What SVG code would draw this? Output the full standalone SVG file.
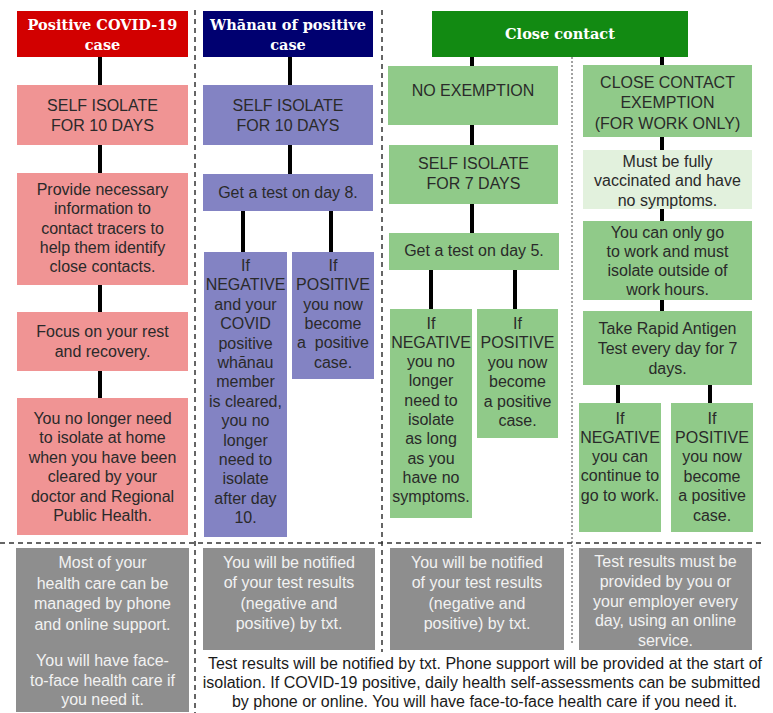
<svg xmlns="http://www.w3.org/2000/svg" width="773" height="713" viewBox="0 0 773 713">
<style>
.hd{font-family:"DejaVu Serif","Liberation Serif",serif;font-weight:bold;font-size:14.5px;fill:#fff;text-anchor:middle}
.t{font-family:"Liberation Sans",Arial,sans-serif;font-size:16px;fill:#2a2a2a;text-anchor:middle}
.g{font-family:"Liberation Sans",Arial,sans-serif;font-size:16px;fill:#f2f2f2;text-anchor:middle}
.b{font-family:"Liberation Sans",Arial,sans-serif;font-size:16px;fill:#1a1a1a;text-anchor:middle}
.red{fill:#f09494}.pur{fill:#8383c3}.grn{fill:#90ca89}.lgr{fill:#e2f1dd}.gry{fill:#8e8e8e}
.c{stroke:#000;stroke-width:4;fill:none}
.dv{stroke:#333;stroke-width:1.5;stroke-dasharray:5 4;fill:none}
.dt{stroke:#444;stroke-width:1;stroke-dasharray:2 2;fill:none}
</style>
<rect width="773" height="713" fill="#fff"/>
<g id="dividers">
<line class="dv" x1="195" y1="10" x2="195" y2="713"/>
<line class="dv" x1="382" y1="10" x2="382" y2="652"/>
<line class="dv" x1="0" y1="543" x2="765" y2="543"/>
<line class="dt" x1="572" y1="57" x2="572" y2="645"/>
</g>
<g id="connectors">
<line class="c" x1="100" y1="57" x2="100" y2="85"/>
<line class="c" x1="100" y1="145" x2="100" y2="173"/>
<line class="c" x1="100" y1="285" x2="100" y2="312"/>
<line class="c" x1="100" y1="371" x2="100" y2="398"/>
<line class="c" x1="290" y1="57" x2="290" y2="85"/>
<line class="c" x1="290" y1="145" x2="290" y2="174"/>
<line class="c" x1="243" y1="211" x2="243" y2="252"/>
<line class="c" x1="331" y1="211" x2="331" y2="252"/>
<line class="c" x1="472" y1="57" x2="472" y2="66"/>
<line class="c" x1="472" y1="125" x2="472" y2="145"/>
<line class="c" x1="472" y1="204" x2="472" y2="233"/>
<line class="c" x1="431" y1="270" x2="431" y2="309"/>
<line class="c" x1="515" y1="270" x2="515" y2="309"/>
<line class="c" x1="662" y1="57" x2="662" y2="65"/>
<line class="c" x1="662" y1="137" x2="662" y2="150"/>
<line class="c" x1="662" y1="209" x2="662" y2="221"/>
<line class="c" x1="662" y1="300" x2="662" y2="311"/>
<line class="c" x1="618" y1="385" x2="618" y2="403"/>
<line class="c" x1="710" y1="385" x2="710" y2="403"/>
</g>
<g id="h1"><rect x="17" y="11" width="171" height="46" fill="#d20000"/>
<text class="hd"><tspan x="102.5" y="30">Positive COVID-19</tspan><tspan x="102.5" y="49.5">case</tspan></text></g>
<g id="h2"><rect x="203" y="11" width="170" height="46" fill="#000070"/>
<text class="hd"><tspan x="288" y="30">Whānau of positive</tspan><tspan x="288" y="49.5">case</tspan></text></g>
<g id="h3"><rect x="432" y="11" width="256" height="46" fill="#128a12"/>
<text class="hd" x="560" y="38.5">Close contact</text></g>

<g id="r1"><rect class="red" x="17" y="85" width="171" height="60"/>
<text class="t"><tspan x="102.5" y="111">SELF ISOLATE</tspan><tspan x="102.5" dy="19.5">FOR 10 DAYS</tspan></text></g>
<g id="r2"><rect class="red" x="17" y="173" width="171" height="112"/>
<text class="t"><tspan x="102.5" y="195">Provide necessary</tspan><tspan x="102.5" dy="19.3">information to</tspan><tspan x="102.5" dy="19.3">contact tracers to</tspan><tspan x="102.5" dy="19.3">help them identify</tspan><tspan x="102.5" dy="19.3">close contacts.</tspan></text></g>
<g id="r3"><rect class="red" x="17" y="312" width="171" height="59"/>
<text class="t"><tspan x="102.5" y="337">Focus on your rest</tspan><tspan x="102.5" dy="19.5">and recovery.</tspan></text></g>
<g id="r4"><rect class="red" x="17" y="398" width="171" height="137"/>
<text class="t"><tspan x="102.5" y="423.5">You no longer need</tspan><tspan x="102.5" dy="19.5">to isolate at home</tspan><tspan x="102.5" dy="19.5">when you have been</tspan><tspan x="102.5" dy="19.5">cleared by your</tspan><tspan x="102.5" dy="19.5">doctor and Regional</tspan><tspan x="102.5" dy="19.5">Public Health.</tspan></text></g>

<g id="p1"><rect class="pur" x="203" y="85" width="170" height="60"/>
<text class="t"><tspan x="288" y="111">SELF ISOLATE</tspan><tspan x="288" dy="19.5">FOR 10 DAYS</tspan></text></g>
<g id="p2"><rect class="pur" x="203" y="174" width="170" height="37"/>
<text class="t" x="288" y="198">Get a test on day 8.</text></g>
<g id="p3"><rect class="pur" x="204" y="252" width="83" height="285"/>
<text class="t"><tspan x="245.5" y="271">If</tspan><tspan x="245.5" dy="19.4">NEGATIVE</tspan><tspan x="245.5" dy="19.4">and your</tspan><tspan x="245.5" dy="19.4">COVID</tspan><tspan x="245.5" dy="19.4">positive</tspan><tspan x="245.5" dy="19.4">whānau</tspan><tspan x="245.5" dy="19.4">member</tspan><tspan x="245.5" dy="19.4">is cleared,</tspan><tspan x="245.5" dy="19.4">you no</tspan><tspan x="245.5" dy="19.4">longer</tspan><tspan x="245.5" dy="19.4">need to</tspan><tspan x="245.5" dy="19.4">isolate</tspan><tspan x="245.5" dy="19.4">after day</tspan><tspan x="245.5" dy="19.4">10.</tspan></text></g>
<g id="p4"><rect class="pur" x="292" y="252" width="82" height="127"/>
<text class="t"><tspan x="333" y="271">If</tspan><tspan x="333" dy="19.3">POSITIVE</tspan><tspan x="333" dy="19.3">you now</tspan><tspan x="333" dy="19.3">become</tspan><tspan x="333" dy="19.3" xml:space="preserve">a  positive</tspan><tspan x="333" dy="19.3">case.</tspan></text></g>

<g id="g1"><rect class="grn" x="388" y="66" width="170" height="59"/>
<text class="t" x="473" y="96">NO EXEMPTION</text></g>
<g id="g2"><rect class="grn" x="389" y="145" width="169" height="59"/>
<text class="t"><tspan x="473.5" y="168.5">SELF ISOLATE</tspan><tspan x="473.5" dy="20">FOR 7 DAYS</tspan></text></g>
<g id="g3"><rect class="grn" x="389" y="233" width="170" height="37"/>
<text class="t" x="474" y="256">Get a test on day 5.</text></g>
<g id="g4"><rect class="grn" x="390" y="309" width="82" height="209"/>
<text class="t"><tspan x="431" y="328.5">If</tspan><tspan x="431" dy="19.3">NEGATIVE</tspan><tspan x="431" dy="19.3">you no</tspan><tspan x="431" dy="19.3">longer</tspan><tspan x="431" dy="19.3">need to</tspan><tspan x="431" dy="19.3">isolate</tspan><tspan x="431" dy="19.3">as long</tspan><tspan x="431" dy="19.3">as you</tspan><tspan x="431" dy="19.3">have no</tspan><tspan x="431" dy="19.3">symptoms.</tspan></text></g>
<g id="g5"><rect class="grn" x="477" y="309" width="81" height="129"/>
<text class="t"><tspan x="517.5" y="328.5">If</tspan><tspan x="517.5" dy="19.5">POSITIVE</tspan><tspan x="517.5" dy="19.5">you now</tspan><tspan x="517.5" dy="19.5">become</tspan><tspan x="517.5" dy="19.5">a positive</tspan><tspan x="517.5" dy="19.5">case.</tspan></text></g>

<g id="e1"><rect class="grn" x="583" y="65" width="169" height="72"/>
<text class="t"><tspan x="667.5" y="87.5">CLOSE CONTACT</tspan><tspan x="667.5" dy="20.5">EXEMPTION</tspan><tspan x="667.5" dy="20.5">(FOR WORK ONLY)</tspan></text></g>
<g id="e2"><rect class="lgr" x="583" y="150" width="169" height="59"/>
<text class="t"><tspan x="667.5" y="166.5">Must be fully</tspan><tspan x="667.5" dy="19.5">vaccinated and have</tspan><tspan x="667.5" dy="19.5">no symptoms.</tspan></text></g>
<g id="e3"><rect class="grn" x="583" y="221" width="169" height="79"/>
<text class="t"><tspan x="667.5" y="237.5">You can only go</tspan><tspan x="667.5" dy="19.3">to work and must</tspan><tspan x="667.5" dy="19.3">isolate outside of</tspan><tspan x="667.5" dy="19.3">work hours.</tspan></text></g>
<g id="e4"><rect class="grn" x="583" y="311" width="169" height="74"/>
<text class="t"><tspan x="667.5" y="333.5">Take Rapid Antigen</tspan><tspan x="667.5" dy="20">Test every day for 7</tspan><tspan x="667.5" dy="20">days.</tspan></text></g>
<g id="e5"><rect class="grn" x="579" y="403" width="82" height="129"/>
<text class="t"><tspan x="620" y="423.5">If</tspan><tspan x="620" dy="19.3">NEGATIVE</tspan><tspan x="620" dy="19.3">you can</tspan><tspan x="620" dy="19.3">continue to</tspan><tspan x="620" dy="19.3">go to work.</tspan></text></g>
<g id="e6"><rect class="grn" x="671" y="403" width="82" height="129"/>
<text class="t"><tspan x="712" y="423.5">If</tspan><tspan x="712" dy="19.4">POSITIVE</tspan><tspan x="712" dy="19.4">you now</tspan><tspan x="712" dy="19.4">become</tspan><tspan x="712" dy="19.4">a positive</tspan><tspan x="712" dy="19.4">case.</tspan></text></g>

<g id="n1"><rect class="gry" x="16" y="548" width="173" height="164"/>
<text class="g"><tspan x="102.5" y="568">Most of your</tspan><tspan x="102.5" y="588.5">health care can be</tspan><tspan x="102.5" y="609">managed by phone</tspan><tspan x="102.5" y="629.5">and online support.</tspan><tspan x="102.5" y="665.5">You will have face-</tspan><tspan x="102.5" y="685.5">to-face health care if</tspan><tspan x="102.5" y="705">you need it.</tspan></text></g>
<g id="n2"><rect class="gry" x="203" y="548" width="172" height="102"/>
<text class="g"><tspan x="289" y="568">You will be notified</tspan><tspan x="289" dy="20.3">of your test results</tspan><tspan x="289" dy="20.3">(negative and</tspan><tspan x="289" dy="20.3">positive) by txt.</tspan></text></g>
<g id="n3"><rect class="gry" x="390" y="548" width="174" height="102"/>
<text class="g"><tspan x="477" y="568">You will be notified</tspan><tspan x="477" dy="20.3">of your test results</tspan><tspan x="477" dy="20.3">(negative and</tspan><tspan x="477" dy="20.3">positive) by txt.</tspan></text></g>
<g id="n4"><rect class="gry" x="579" y="548" width="173" height="102"/>
<text class="g"><tspan x="665.5" y="567">Test results must be</tspan><tspan x="665.5" dy="19.8">provided by you or</tspan><tspan x="665.5" dy="19.8">your employer every</tspan><tspan x="665.5" dy="19.8">day, using an online</tspan><tspan x="665.5" dy="19.8">service.</tspan></text></g>

<g id="note">
<text class="b"><tspan x="485" y="669">Test results will be notified by txt. Phone support will be provided at the start of</tspan><tspan x="481.5" y="688">isolation. If COVID-19 positive, daily health self-assessments can be submitted</tspan><tspan x="484.5" y="707">by phone or online. You will have face-to-face health care if you need it.</tspan></text>
</g>
</svg>
